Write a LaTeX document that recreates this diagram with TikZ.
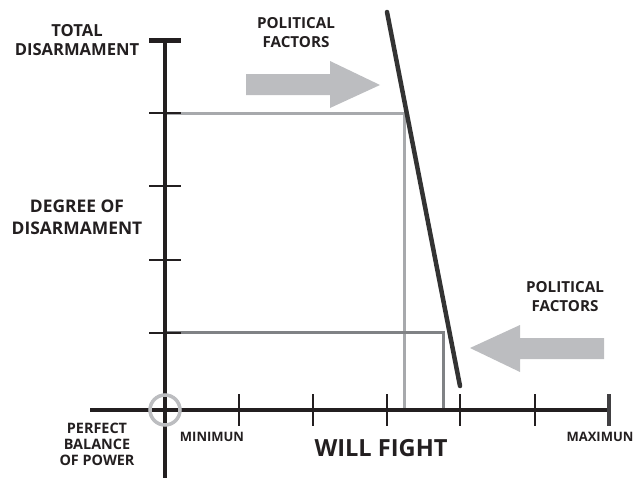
\documentclass[tikz,border=0pt]{standalone}
\usepackage{fontspec}
\setmainfont{Open Sans}
\definecolor{axisc}{HTML}{231F20}
\definecolor{curvec}{HTML}{333333}
\definecolor{arrowc}{HTML}{BCBDC0}
\definecolor{lightln}{HTML}{A7A9AC}
\definecolor{darkln}{HTML}{808285}
\definecolor{capc}{HTML}{414042}
\begin{document}
\begin{tikzpicture}[x=1pt,y=-1pt,
  axis/.style={draw=axisc,line width=4pt},
  tick/.style={draw=axisc,line width=2pt},
  lbl/.style={font=\bfseries\fontsize{15.2}{19}\selectfont,align=center,text=axisc,inner sep=0pt},
  toplbl/.style={font=\bfseries\fontsize{16.6}{19}\selectfont,align=center,text=axisc,inner sep=0pt},
  biglbl/.style={font=\bfseries\fontsize{17.4}{22}\selectfont,align=center,text=axisc,inner sep=0pt},
  smalllbl/.style={font=\bfseries\fontsize{14.4}{16}\selectfont,align=center,text=axisc,inner sep=0pt},
  endlbl/.style={font=\bfseries\fontsize{13}{16}\selectfont,align=center,text=axisc,inner sep=0pt},
  guide/.style={line width=3pt},
  bigarrow/.style={fill=arrowc,draw=none}]
\useasboundingbox (0,0) rectangle (634,479);
% coordinates
\coordinate (O) at (165,410);
\coordinate (Ytop) at (165,40);
\coordinate (Ybot) at (165,478);
\coordinate (Xl) at (90,410);
\coordinate (Xr) at (609,410);
% guide lines
\coordinate (u1) at (167,113);
\coordinate (u2) at (404,113);
\coordinate (u3) at (404,408);
\coordinate (l1) at (167,332);
\coordinate (l2) at (443,332);
\coordinate (l3) at (443,408);
\draw[guide,draw=lightln] (u1) -- (u2) -- (u3);
\draw[guide,draw=darkln] (l1) -- (l2) -- (l3);
% axes
\draw[axis] (Ytop) -- (Ybot);
\draw[axis] (Xl) -- (Xr);
\draw[draw=axisc,line width=5pt] (149,40) -- (181,40);
\draw[draw=capc,line width=4pt] (609,394) -- (609,426);
\foreach \y in {113,186,260,333} \draw[tick] (149,\y) -- (181,\y);
\foreach \x in {239,313,387,460,535} \draw[tick] (\x,394) -- (\x,426);
% origin circle
\draw[draw=arrowc,line width=3.5pt] (O) circle (15);
% diagonal line
\coordinate (d1) at (387,12);
\coordinate (d2) at (460,386);
\draw[draw=curvec,line width=4.5pt,line cap=round] (d1) -- (d2);
% arrows
\fill[bigarrow] (246,74) -- (330,74) -- (330,61) -- (380,85) -- (330,108) -- (330,95) -- (246,95) -- cycle;
\fill[bigarrow] (604,338) -- (520,338) -- (520,325) -- (470,348) -- (520,372) -- (520,359) -- (604,359) -- cycle;
% labels
\node[toplbl] (total) at (77,40) {TOTAL\\DISARMAMENT};
\node[lbl] (pf1) at (296,33) {POLITICAL\\FACTORS};
\node[biglbl] (deg) at (77,217) {DEGREE OF\\DISARMAMENT};
\node[smalllbl] (pbp) at (97,444) {PERFECT\\BALANCE\\OF POWER};
\node[endlbl] (minl) at (212,437) {MINIMUN};
\node[font=\bfseries\fontsize{23.6}{26}\selectfont,text=axisc,inner sep=0pt] (wf) at (381,448) {WILL FIGHT};
\node[endlbl] (maxl) at (600,437) {MAXIMUN};
\node[lbl] (pf2) at (565,297) {POLITICAL\\FACTORS};
\end{tikzpicture}
\end{document}
